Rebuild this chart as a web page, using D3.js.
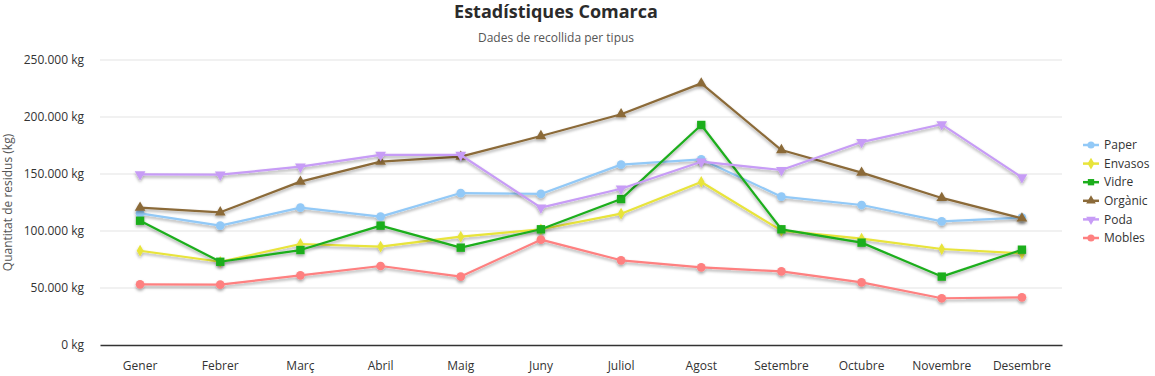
<!DOCTYPE html>
<html>
<head>
<meta charset="utf-8">
<script src="https://cdn.jsdelivr.net/npm/d3@7"></script>
<style>
  body { margin: 0; background: #fff; font-family: "Open Sans", "Noto Sans", sans-serif; }
</style>
</head>
<body>
<div id="container"></div>
<script>
/* DATA */
const months = ["Gener", "Febrer", "Març", "Abril", "Maig", "Juny", "Juliol", "Agost", "Setembre", "Octubre", "Novembre", "Desembre"];
const paper   = [115500, 104700, 120500, 112600, 133300, 132500, 158200, 162900, 130100, 122800, 108500, 111700];
const envasos = [82700, 73000, 88600, 86300, 95000, 101500, 115200, 143000, 100300, 93300, 84200, 80400];
const vidre   = [109000, 73000, 83300, 104700, 85400, 101500, 128000, 193000, 101500, 89800, 60000, 83600];
const organic = [120500, 116400, 143300, 160800, 165200, 183300, 202400, 229500, 171000, 151200, 129000, 111100];
const poda    = [149700, 149400, 156400, 166700, 166700, 120500, 137100, 160800, 153500, 178000, 193600, 147000];
const mobles  = [53200, 52900, 61100, 69300, 60000, 92400, 74300, 68100, 64600, 55000, 41000, 41800];
const yTicks  = [0, 50000, 100000, 150000, 200000, 250000];

const series = [
  { name: "Paper",   values: paper,   color: "#92c9f7", symbol: "circle" },
  { name: "Envasos", values: envasos, color: "#e8e43a", symbol: "diamond" },
  { name: "Vidre",   values: vidre,   color: "#1cae1c", symbol: "square" },
  { name: "Orgànic", values: organic, color: "#8b6a39", symbol: "triangle" },
  { name: "Poda",    values: poda,    color: "#c79cf6", symbol: "triangleDown" },
  { name: "Mobles",  values: mobles,  color: "#fe8080", symbol: "circle" }
];

/* CONSTANTS */
const width = 1155, height = 376;
const margin = { top: 60, right: 93, bottom: 31, left: 100 };
const innerW = width - margin.left - margin.right;
const innerH = height - margin.top - margin.bottom;

const svg = d3.select("#container").append("svg")
  .attr("width", width)
  .attr("height", height);

// soft drop shadow under the lines
const defs = svg.append("defs");
const shadow = defs.append("filter").attr("id", "shadow")
  .attr("x", "-5%").attr("y", "-20%").attr("width", "110%").attr("height", "140%");
shadow.append("feDropShadow")
  .attr("dx", 0).attr("dy", 2).attr("stdDeviation", 1.5)
  .attr("flood-color", "#000").attr("flood-opacity", 0.35);

/* SCALES */
const xScale = d3.scaleBand()
  .domain(months)
  .range([0, innerW]);

const yScale = d3.scaleLinear()
  .domain([0, 250000])
  .range([innerH, 0]);

const fmt = d => d3.format(",")(d).replace(/,/g, ".") + " kg";

const g = svg.append("g").attr("transform", `translate(${margin.left},${margin.top})`);

// grid
g.append("g")
  .selectAll("line")
  .data(yTicks.filter(d => d > 0))
  .join("line")
  .attr("x1", 0).attr("x2", innerW)
  .attr("y1", d => yScale(d)).attr("y2", d => yScale(d))
  .attr("stroke", "#e3e3e3");

// y axis labels
const yAxis = d3.axisLeft(yScale).tickValues(yTicks).tickFormat(fmt).tickSize(0).tickPadding(16);
g.append("g").call(yAxis)
  .call(s => s.select(".domain").remove())
  .selectAll("text")
  .attr("font-size", 12).attr("fill", "#333")
  .attr("font-family", "'Open Sans', sans-serif");

// x axis
const xAxis = d3.axisBottom(xScale).tickSize(0).tickPadding(16);
g.append("g").attr("transform", `translate(0,${innerH})`).call(xAxis)
  .call(s => s.select(".domain").attr("stroke", "#333").attr("stroke-width", 1.5))
  .selectAll("text")
  .attr("font-size", 12).attr("fill", "#333")
  .attr("font-family", "'Open Sans', sans-serif");

// symbols
const symbolTypes = {
  circle: d3.symbolCircle, diamond: d3.symbolDiamond, square: d3.symbolSquare,
  triangle: d3.symbolTriangle, triangleDown: d3.symbolTriangle
};
const symbolOf = s => d3.symbol().type(symbolTypes[s])
  .size(s === "diamond" ? 40 : s === "square" ? 70 : s === "circle" ? 60 : 50)();

const line = d3.line()
  .x((d, i) => xScale(months[i]) + xScale.bandwidth() / 2)
  .y(d => yScale(d));

const sg = g.selectAll(".series")
  .data(series)
  .join("g")
  .attr("class", "series")
  .attr("filter", "url(#shadow)");

sg.append("path")
  .attr("d", d => line(d.values))
  .attr("fill", "none")
  .attr("stroke", d => d.color)
  .attr("stroke-width", 2.2)
  .attr("stroke-linejoin", "round");

sg.each(function(s) {
  d3.select(this).selectAll("path.pt")
    .data(s.values)
    .join("path")
    .attr("class", "pt")
    .attr("d", symbolOf(s.symbol))
    .attr("transform", (d, i) => `translate(${xScale(months[i]) + xScale.bandwidth() / 2},${yScale(d)})` + (s.symbol === "triangleDown" ? " rotate(180)" : ""))
    .attr("fill", s.color);
});

// title
svg.append("text")
  .attr("x", 556).attr("y", 18)
  .attr("text-anchor", "middle")
  .attr("font-size", 18).attr("font-weight", "bold").attr("fill", "#2b2b2b")
  .text("Estadístiques Comarca");

svg.append("text")
  .attr("x", 556).attr("y", 42)
  .attr("text-anchor", "middle")
  .attr("font-size", 12).attr("fill", "#555")
  .text("Dades de recollida per tipus");

// y axis title
svg.append("text")
  .attr("transform", `translate(12,${margin.top + innerH / 2}) rotate(-90)`)
  .attr("text-anchor", "middle")
  .attr("font-size", 12).attr("fill", "#555")
  .text("Quantitat de residus (kg)");

// legend
const legend = svg.append("g").attr("transform", "translate(1083,145)");
const li = legend.selectAll("g")
  .data(series)
  .join("g")
  .attr("transform", (d, i) => `translate(0,${i * 18.6})`);

li.append("line")
  .attr("x1", 0).attr("x2", 16)
  .attr("stroke", d => d.color).attr("stroke-width", 2.5);

li.append("path")
  .attr("d", d => d3.symbol().type(symbolTypes[d.symbol]).size(40)())
  .attr("transform", d => "translate(8,0)" + (d.symbol === "triangleDown" ? " rotate(180)" : ""))
  .attr("fill", d => d.color);

li.append("text")
  .attr("x", 21).attr("dy", "0.35em")
  .attr("font-size", 12).attr("fill", "#333")
  .text(d => d.name);
</script>
</body>
</html>
